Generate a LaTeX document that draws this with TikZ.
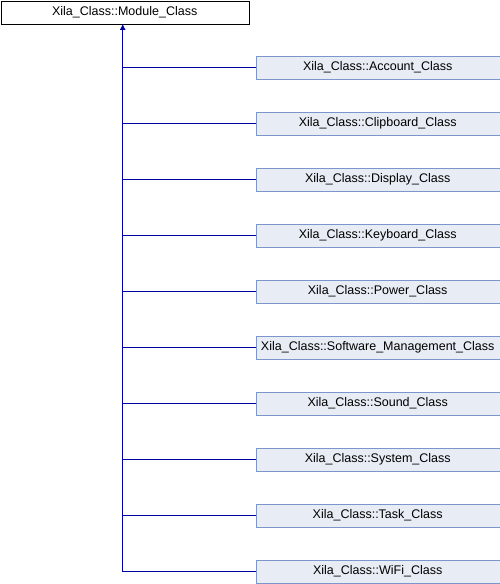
\documentclass[tikz,border=0pt]{standalone}
\usepackage{fontspec}
\setmainfont{Liberation Sans}
\usetikzlibrary{arrows.meta}
\definecolor{edgeblue}{RGB}{0,0,160}
\definecolor{boxline}{RGB}{124,149,204}
\definecolor{boxfill}{RGB}{232,236,244}
\begin{document}
\begin{tikzpicture}[x=1pt,y=-1pt,
  classtext/.style={inner sep=0pt, minimum height=23pt, font=\fontsize{12.5}{14}\selectfont},
  baseclass/.style={classtext, draw=black, fill=white, minimum width=248pt},
  subclass/.style={classtext, draw=boxline, fill=boxfill, minimum width=244pt},
  inherit/.style={draw=edgeblue, line width=1pt}]
\useasboundingbox (0,0) rectangle (500,584);
\node[baseclass, anchor=north west] (module) at (0.5,0.5) {Xila\_Class::Module\_Class};
% derived classes, one per row
\foreach \key/\label [count=\i] in {Account/Account, Clipboard/Clipboard, Display/Display,
    Keyboard/Keyboard, Power/Power, Software/Software\_Management, Sound/Sound,
    System/System, Task/Task, WiFi/WiFi}
  \node[subclass, anchor=west] (\key) at (255.5,11.5+56*\i) {Xila\_Class::\label\_Class};
\coordinate (trunk) at ([xshift=-2pt]module.south);
\draw[inherit, -{Latex[length=6pt,width=6pt]}] (WiFi.west) -| (trunk);
\foreach \key in {Account,Clipboard,Display,Keyboard,Power,Software,Sound,System,Task}
  \draw[inherit] (\key.west) -- (\key.west -| trunk);
\end{tikzpicture}
\end{document}
